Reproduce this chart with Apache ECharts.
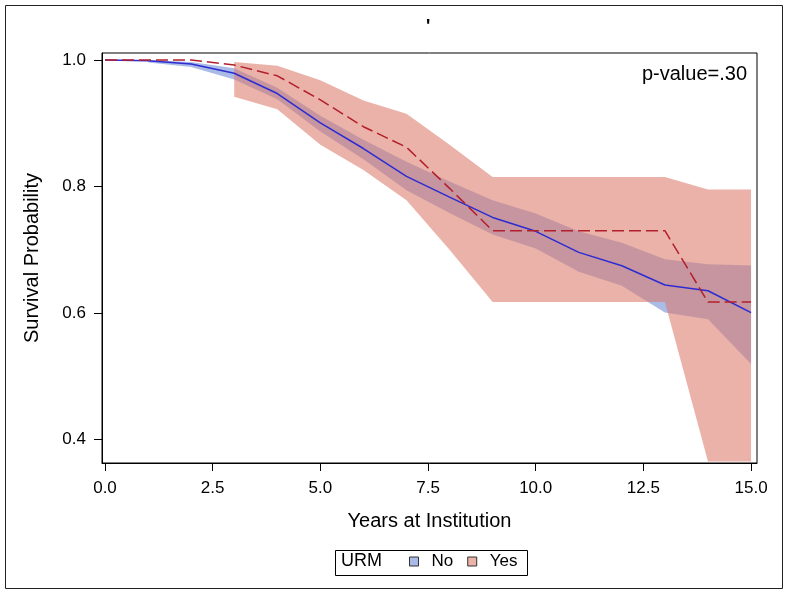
<!DOCTYPE html>
<html>
<head>
<meta charset="utf-8">
<script src="https://cdn.jsdelivr.net/npm/echarts@6/dist/echarts.min.js"></script>
<style>
html,body{margin:0;padding:0;background:#fff;}
#chart{width:785px;height:590px;}
</style>
</head>
<body>
<div id="chart"></div>
<script>
// ---- data ----
const noYears  = [0, 1, 2, 3, 4, 5, 6, 7, 8, 9, 10, 11, 12, 13, 14, 15];
const noSurv   = [1.0, 0.999, 0.9937, 0.979, 0.947, 0.9005, 0.860, 0.816, 0.783, 0.751, 0.729, 0.6957, 0.6746, 0.644, 0.635, 0.6005];
const bandYearsNo = [1, 2, 3, 4, 5, 6, 7, 8, 9, 10, 11, 12, 13, 14, 15];
const noLower  = [0.996, 0.989, 0.969, 0.938, 0.887, 0.843, 0.794, 0.758, 0.724, 0.702, 0.665, 0.643, 0.6005, 0.590, 0.519];
const noUpper  = [1.0, 0.997, 0.987, 0.956, 0.912, 0.874, 0.839, 0.808, 0.778, 0.757, 0.729, 0.711, 0.685, 0.677, 0.675];

const yesYears = [0, 1, 2, 3, 4, 5, 6, 7, 8, 9, 10, 11, 12, 13, 14, 15];
const yesSurv  = [1.0, 1.0, 1.0, 0.992, 0.975, 0.937, 0.8945, 0.862, 0.797, 0.730, 0.730, 0.730, 0.730, 0.730, 0.617, 0.617];
const bandYearsYes = [3, 4, 5, 6, 7, 8, 9, 10, 11, 12, 13, 14, 15];
const yesLower = [0.942, 0.922, 0.866, 0.826, 0.778, 0.700, 0.617, 0.617, 0.617, 0.617, 0.617, 0.365, 0.365];
const yesUpper = [0.997, 0.991, 0.968, 0.936, 0.915, 0.866, 0.815, 0.815, 0.815, 0.815, 0.815, 0.795, 0.795];

const xTickValues = [0, 2.5, 5, 7.5, 10, 12.5, 15];
const yTickValues = [0.4, 0.6, 0.8, 1.0];
const groupNames = ['No', 'Yes'];
const legendTitle = 'URM';
const pValueText = 'p-value=.30';
const chartTitle = "'";

// ---- styles ----
const FONT = '"Liberation Sans", Arial, sans-serif';
const blueBandColor = 'rgba(85,119,205,0.5)';
const redBandColor = 'rgba(220,122,108,0.58)';
const blueLegend = '#aab9e6';
const redLegend = '#ebb2aa';

function bandData(xs, lo, hi) {
  return xs.map((x, i) => [x, lo[i], hi[i]]);
}
function bandRenderer(xs, lo, hi, color) {
  return function (params, api) {
    if (params.dataIndex !== 0) return null;
    const pts = [];
    for (let i = 0; i < xs.length; i++) pts.push(api.coord([xs[i], hi[i]]));
    for (let i = xs.length - 1; i >= 0; i--) pts.push(api.coord([xs[i], lo[i]]));
    return {
      type: 'polygon',
      shape: { points: pts },
      style: { fill: color, stroke: null }
    };
  };
}

const chart = echarts.init(document.getElementById('chart'), null, { renderer: 'canvas' });
chart.setOption({
  animation: false,
  backgroundColor: '#fff',
  textStyle: { fontFamily: FONT },
  grid: {
    left: 102, right: 28, top: 53, bottom: 127,
    show: true, borderColor: '#000', borderWidth: 1, backgroundColor: 'transparent'
  },
  xAxis: {
    type: 'value',
    min: -0.0697,
    max: 15.138,
    name: 'Years at Institution',
    nameLocation: 'middle',
    nameGap: 48,
    nameTextStyle: { fontFamily: FONT, fontSize: 20, color: '#000' },
    axisLine: { show: true, onZero: false, lineStyle: { color: '#000', width: 1 } },
    axisTick: { show: true, inside: false, length: 8, customValues: xTickValues, lineStyle: { color: '#000' } },
    axisLabel: {
      customValues: xTickValues,
      formatter: v => Number(v).toFixed(1),
      fontFamily: FONT, fontSize: 17, color: '#000', margin: 17
    },
    splitLine: { show: false }
  },
  yAxis: {
    type: 'value',
    min: 0.3625,
    max: 1.0111,
    name: 'Survival Probability',
    nameLocation: 'middle',
    nameGap: 60,
    nameTextStyle: { fontFamily: FONT, fontSize: 20, color: '#000' },
    axisLine: { show: true, onZero: false, lineStyle: { color: '#000', width: 1 } },
    axisTick: { show: true, inside: false, length: 8, customValues: yTickValues, lineStyle: { color: '#000' } },
    axisLabel: {
      customValues: yTickValues,
      formatter: v => Number(v).toFixed(1),
      fontFamily: FONT, fontSize: 17, color: '#000', margin: 16
    },
    splitLine: { show: false }
  },
  legend: {
    data: [
      { name: groupNames[0], itemStyle: { color: blueLegend, borderColor: '#333', borderWidth: 1 } },
      { name: groupNames[1], itemStyle: { color: redLegend, borderColor: '#333', borderWidth: 1 } }
    ],
    left: 409,
    top: 553,
    icon: 'rect',
    itemWidth: 9,
    itemHeight: 9,
    itemGap: 14,
    padding: [0, 0, 0, 0],
    textStyle: { fontFamily: FONT, fontSize: 17, color: '#000', padding: [0, 0, 0, 8] },
    selectedMode: false
  },
  graphic: [
    { type: 'rect', left: 3, top: 3, shape: { x: 0, y: 0, width: 777, height: 583 }, style: { fill: null, stroke: '#222', lineWidth: 1 }, silent: true },
    { type: 'rect', left: 333, top: 548, shape: { x: 0, y: 0, width: 192, height: 25 }, style: { fill: null, stroke: '#000', lineWidth: 1 }, silent: true },
    { type: 'text', left: 341, top: 552, style: { text: legendTitle, fontFamily: FONT, fontSize: 18, fill: '#000' }, silent: true },
    { type: 'text', right: 38, top: 64, style: { text: pValueText, fontFamily: FONT, fontSize: 20, fill: '#000', align: 'right' }, silent: true },
    { type: 'text', left: 426, top: 18, style: { text: chartTitle, fontFamily: FONT, fontSize: 18, fontWeight: 'bold', fill: '#000' }, silent: true }
  ],
  series: [
    {
      name: groupNames[0],
      type: 'custom',
      renderItem: bandRenderer(bandYearsNo, noLower, noUpper, blueBandColor),
      data: bandData(bandYearsNo, noLower, noUpper),
      encode: { x: 0, y: [1, 2] },
      itemStyle: { color: blueLegend },
      clip: true,
      z: 1
    },
    {
      name: groupNames[1],
      type: 'custom',
      renderItem: bandRenderer(bandYearsYes, yesLower, yesUpper, redBandColor),
      data: bandData(bandYearsYes, yesLower, yesUpper),
      encode: { x: 0, y: [1, 2] },
      itemStyle: { color: redLegend },
      clip: true,
      z: 2
    },
    {
      name: 'No curve',
      type: 'line',
      data: noYears.map((x, i) => [x, noSurv[i]]),
      showSymbol: false,
      symbol: 'none',
      lineStyle: { color: '#2c2cd2', width: 1.5 },
      z: 3
    },
    {
      name: 'Yes curve',
      type: 'line',
      data: yesYears.map((x, i) => [x, yesSurv[i]]),
      showSymbol: false,
      symbol: 'none',
      lineStyle: { color: '#b21f2a', width: 1.5, type: [12, 5] },
      z: 4
    }
  ]
});
</script>
</body>
</html>
